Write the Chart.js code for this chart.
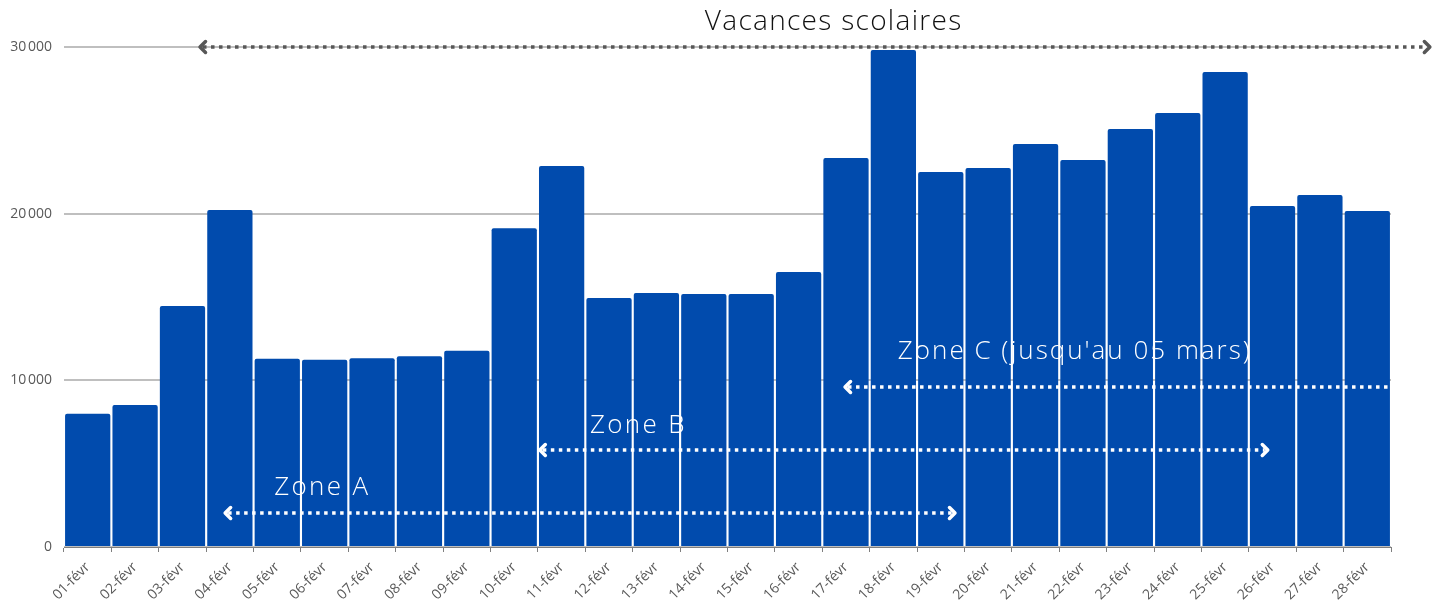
<!DOCTYPE html>
<html>
<head>
<meta charset="utf-8">
<script src="https://cdn.jsdelivr.net/npm/chart.js@4/dist/chart.umd.min.js"></script>
<style>
  html, body { margin: 0; padding: 0; background: #fff; }
  #wrap { width: 1439px; height: 605px; }
</style>
</head>
<body>
<div id="wrap"><canvas id="visitsChart" width="1439" height="605"></canvas></div>
<script>
// days of February
const days = ['01-févr', '02-févr', '03-févr', '04-févr', '05-févr', '06-févr', '07-févr',
  '08-févr', '09-févr', '10-févr', '11-févr', '12-févr', '13-févr', '14-févr',
  '15-févr', '16-févr', '17-févr', '18-févr', '19-févr', '20-févr', '21-févr',
  '22-févr', '23-févr', '24-févr', '25-févr', '26-févr', '27-févr', '28-févr'];

const visits = [8000, 8520, 14460, 20220, 11300, 11240, 11320,
  11440, 11780, 19120, 22860, 14940, 15240, 15180,
  15180, 16500, 23340, 29820, 22500, 22740, 24180,
  23220, 25080, 26040, 28500, 20460, 21120, 20160];

const yTicks = [0, 10000, 20000, 30000];

// holiday periods: start / end as positions on the day axis
const zoneNames = ['Vacances scolaires', 'Zone A', 'Zone B', "Zone C (jusqu'au 05 mars)"];
const zoneStart = [2.37, 2.9, 9.54, 15.98];
const zoneEnd = [28.32, 18.3, 24.9, 27.5];
const zoneLevel = [30000, 2040, 5820, 9600];

const zoneStyle = [
  { color: '#575757', width: 3.5, head: [true, true], label: { x: 15.74, y: 31500, size: 28, spacing: 1.3, color: '#111' } },
  { color: '#ffffff', width: 3.5, head: [true, true], label: { x: 4.95, y: 3540, size: 26, spacing: 2.3, color: '#fff' } },
  { color: '#ffffff', width: 3.5, head: [true, true], label: { x: 11.62, y: 7260, size: 26, spacing: 2.3, color: '#fff' } },
  { color: '#ffffff', width: 3.5, head: [true, false], label: { x: 20.83, y: 11700, size: 26, spacing: 2, color: '#fff' } }
];

const fontFamily = "'Open Sans', 'Noto Sans', sans-serif";

function chevron(ctx, x, y, dir, size) {
  ctx.beginPath();
  ctx.moveTo(x + dir * size, y - size);
  ctx.lineTo(x, y);
  ctx.lineTo(x + dir * size, y + size);
  ctx.stroke();
}

const zonesPlugin = {
  id: 'zones',
  afterDatasetsDraw(chart) {
    const ctx = chart.ctx;
    const xs = chart.scales.x;
    const ys = chart.scales.y;
    ctx.save();
    zoneNames.forEach((name, i) => {
      const st = zoneStyle[i];
      const x0 = xs.getPixelForValue(zoneStart[i]);
      const x1 = xs.getPixelForValue(zoneEnd[i]);
      const y = Math.round(ys.getPixelForValue(zoneLevel[i]));
      ctx.strokeStyle = st.color;
      ctx.lineWidth = st.width;
      ctx.setLineDash([3.5, 4.5]);
      ctx.lineCap = 'butt';
      ctx.beginPath();
      ctx.moveTo(x0 + 3, y);
      ctx.lineTo(x1 - (st.head[1] ? 3 : 0), y);
      ctx.stroke();
      ctx.setLineDash([]);
      ctx.lineCap = 'round';
      ctx.lineJoin = 'round';
      if (st.head[0]) chevron(ctx, x0, y, 1, 5.5);
      if (st.head[1]) chevron(ctx, x1, y, -1, 5.5);

      ctx.fillStyle = st.label.color;
      ctx.font = '300 ' + st.label.size + 'px ' + fontFamily;
      ctx.letterSpacing = st.label.spacing + 'px';
      ctx.textAlign = 'center';
      ctx.textBaseline = 'middle';
      ctx.fillText(name, xs.getPixelForValue(st.label.x), ys.getPixelForValue(st.label.y));
      ctx.letterSpacing = '0px';
    });
    ctx.restore();
  }
};

const chartContext = document.getElementById('visitsChart');
const visitsChart = new Chart(chartContext, {
  type: 'bar',
  data: {
    labels: days,
    datasets: [{
      label: 'Visites',
      data: visits,
      backgroundColor: '#014bad',
      borderRadius: { topLeft: 2, topRight: 2 },
      borderSkipped: 'bottom',
      barPercentage: 0.955,
      categoryPercentage: 1
    }]
  },
  options: {
    responsive: false,
    animation: false,
    layout: { padding: { top: 47, right: 48, left: 0, bottom: 0 } },
    plugins: {
      legend: { display: false },
      tooltip: { enabled: false }
    },
    scales: {
      x: {
        grid: {
          display: true,
          drawOnChartArea: false,
          offset: true,
          color: '#7f7f7f',
          tickLength: 5,
          lineWidth: 1
        },
        border: { display: true, color: '#7f7f7f', width: 1 },
        ticks: {
          color: '#595959',
          font: { family: fontFamily, size: 14 },
          minRotation: 45,
          maxRotation: 45,
          autoSkip: false,
          padding: 7
        },
        afterFit(scale) { scale.height = 58; }
      },
      y: {
        min: 0,
        max: 30000,
        afterBuildTicks(scale) { scale.ticks = yTicks.map(v => ({ value: v })); },
        grid: { color: '#bfbfbf', lineWidth: 2, drawTicks: false },
        border: { display: false },
        ticks: {
          color: '#595959',
          font: { family: fontFamily, size: 14 },
          padding: 12,
          callback: v => v === 0 ? '0' : String(v).replace(/(\d+)(\d{3})$/, '$1\u202F$2')
        },
        afterFit(scale) { scale.width = 64; }
      }
    }
  },
  plugins: [zonesPlugin]
});
</script>
</body>
</html>
